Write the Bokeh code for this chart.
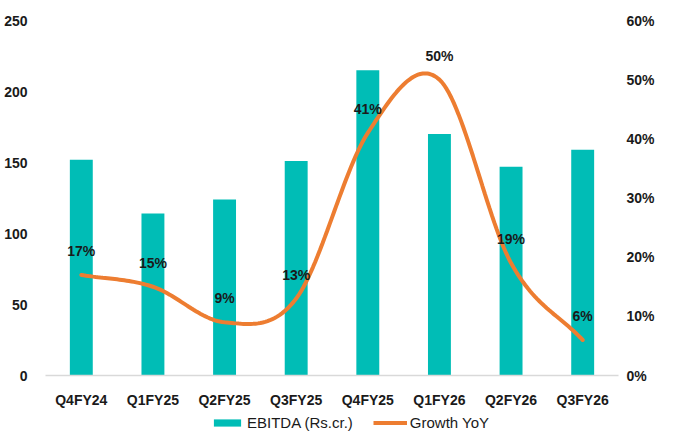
from bokeh.plotting import figure
from bokeh.layouts import column
from bokeh.models import (Range1d, LinearAxis, FixedTicker, PrintfTickFormatter,
                          Legend, LegendItem, ColumnDataSource)
from bokeh.core.properties import value
from bokeh.embed import file_html
from bokeh.resources import INLINE

categories = ["Q4FY24", "Q1FY25", "Q2FY25", "Q3FY25", "Q4FY25", "Q1FY26", "Q2FY26", "Q3FY26"]
ebitda = [152, 114, 124, 151, 215, 170, 147, 159]
growth = [17, 15, 9, 13, 41, 50, 19, 6]
left_ticks = [0, 50, 100, 150, 200, 250]
right_ticks = [0, 10, 20, 30, 40, 50, 60]
series_names = ["EBITDA (Rs.cr.)", "Growth YoY"]

TEAL = "#00BDB6"
ORANGE = "#ED7D31"
FONT = "Liberation Sans"
TXT = "#1a1a1a"

xs = list(range(len(categories)))

p = figure(width=657, height=410, output_backend="svg", toolbar_location=None,
           x_range=Range1d(-0.5, len(categories) - 0.5), y_range=Range1d(0, 250),
           min_border_top=20, min_border_left=45, min_border_right=20, min_border_bottom=20)
p.extra_y_ranges = {"pct": Range1d(0, 60)}
p.outline_line_color = None
p.xgrid.visible = False
p.ygrid.visible = False

# axes
xa = p.xaxis[0]
xa.ticker = FixedTicker(ticks=xs)
xa.major_label_overrides = {i: c for i, c in enumerate(categories)}
xa.axis_line_color = "#D9D9D9"
xa.axis_line_width = 1.5
xa.major_tick_line_color = None
xa.minor_tick_line_color = None
xa.major_label_standoff = 10
xa.major_label_text_font = FONT
xa.major_label_text_font_style = "bold"
xa.major_label_text_font_size = "14px"
xa.major_label_text_color = TXT

ya = p.yaxis[0]
ya.ticker = FixedTicker(ticks=left_ticks)
ya.axis_line_color = None
ya.major_tick_line_color = None
ya.minor_tick_line_color = None
ya.major_label_standoff = 12
ya.major_label_text_font = FONT
ya.major_label_text_font_style = "bold"
ya.major_label_text_font_size = "14px"
ya.major_label_text_color = TXT

ra = LinearAxis(y_range_name="pct", ticker=FixedTicker(ticks=right_ticks),
                formatter=PrintfTickFormatter(format="%d%%"))
ra.axis_line_color = None
ra.major_tick_line_color = None
ra.minor_tick_line_color = None
ra.major_label_standoff = 2
ra.major_label_text_font = FONT
ra.major_label_text_font_style = "bold"
ra.major_label_text_font_size = "14px"
ra.major_label_text_color = TXT
p.add_layout(ra, "right")

# bars
p.vbar(x=xs, top=ebitda, width=0.32, fill_color=TEAL, line_color=None)

# smooth (Catmull-Rom) line through the growth points
def smooth(xv, yv, n=30):
    sx, sy = [], []
    m = len(yv)
    for i in range(m - 1):
        p0 = yv[i - 1] if i > 0 else yv[i]
        p1, p2 = yv[i], yv[i + 1]
        p3 = yv[i + 2] if i + 2 < m else yv[i + 1]
        m1 = (p2 - p0) / (2 if i > 0 else 1)
        m2 = (p3 - p1) / (2 if i + 2 < m else 1)
        for k in range(n):
            t = k / n
            h00 = 2 * t**3 - 3 * t**2 + 1
            h10 = t**3 - 2 * t**2 + t
            h01 = -2 * t**3 + 3 * t**2
            h11 = t**3 - t**2
            sx.append(xv[i] + t * (xv[i + 1] - xv[i]))
            sy.append(h00 * p1 + h10 * m1 + h01 * p2 + h11 * m2)
    sx.append(xv[-1])
    sy.append(yv[-1])
    return sx, sy

lx, ly = smooth(xs, growth)
p.line(lx, ly, y_range_name="pct", line_color=ORANGE, line_width=4, line_cap="round")

# data labels
src = ColumnDataSource(dict(x=xs, y=growth, t=[f"{g}%" for g in growth]))
p.text(x="x", y="y", text="t", source=src, y_range_name="pct", y_offset=-24,
       text_align="center", text_baseline="middle", text_font=value(FONT),
       text_font_style="bold", text_font_size="14px", text_color=TXT)

# legend strip (separate figure below the chart)
nan = float("nan")
lf = figure(width=657, height=22, output_backend="svg", toolbar_location=None,
            x_range=Range1d(0, 1), y_range=Range1d(0, 1),
            min_border=0, x_axis_location=None, y_axis_location=None)
lf.outline_line_color = None
lf.xgrid.visible = False
lf.ygrid.visible = False
lb = lf.vbar(x=[nan], top=[nan], width=0.3, fill_color=TEAL, line_color=None)
ll = lf.line(x=[nan, nan], y=[nan, nan], line_color=ORANGE, line_width=4)
legend = Legend(items=[LegendItem(label=series_names[0], renderers=[lb]),
                       LegendItem(label=series_names[1], renderers=[ll])],
                orientation="horizontal", location=(165, 1))
legend.glyph_width = 34
legend.glyph_height = 9
legend.label_standoff = 3
legend.spacing = 20
legend.padding = 0
legend.margin = 0
legend.border_line_color = None
legend.background_fill_alpha = 0
legend.label_text_font = FONT
legend.label_text_font_size = "15px"
legend.label_text_color = TXT
lf.add_layout(legend, "center")

layout = column(p, lf, spacing=0)
open("out.html", "w").write(file_html(layout, INLINE))
